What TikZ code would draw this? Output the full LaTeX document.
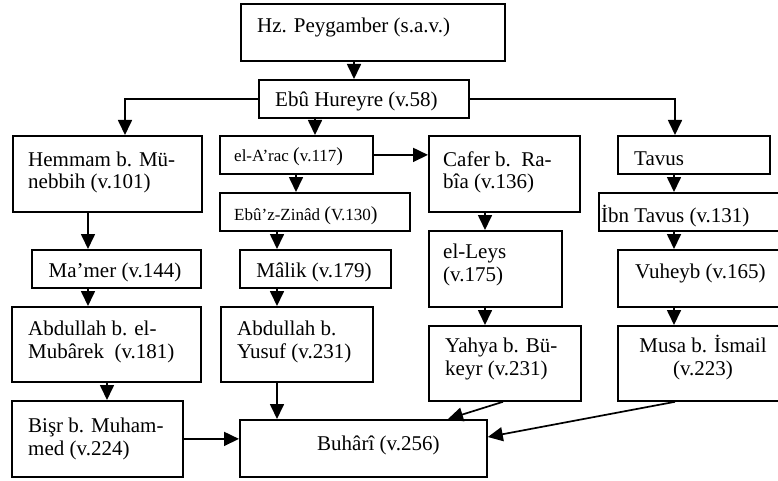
\documentclass[tikz,border=0pt]{standalone}
\usepackage{fontspec}
\setmainfont{Liberation Serif}
\usetikzlibrary{arrows.meta}
\tikzset{
  box/.style={draw, line width=1.8pt, inner sep=0pt, anchor=north west},
  txt/.style={anchor=base west, inner sep=0pt, align=left, font=\fontsize{21}{22.5}\selectfont},
  ctxt/.style={anchor=base, inner sep=0pt, align=center, font=\fontsize{21}{22.5}\selectfont},
  stxt/.style={anchor=base west, inner sep=0pt, font=\fontsize{17}{20}\selectfont},
  arr/.style={-{Triangle[length=15pt,width=14pt]}, line width=1.7pt}
}
\newcommand{\bigpar}[1]{{\fontsize{20}{20}\selectfont #1}}
\begin{document}
\begin{tikzpicture}[x=1pt,y=-1pt]
\useasboundingbox (0,0) rectangle (778,481);
\clip (0,0) rectangle (778,481);
% boxes
\node[box, minimum width=264pt, minimum height=57pt] (peyg) at (240,3) {};
\node[box, minimum width=210pt, minimum height=38pt] (ebu) at (258,79) {};
\node[box, minimum width=189pt, minimum height=76pt] (hemmam) at (12,135) {};
\node[box, minimum width=153pt, minimum height=38pt] (arac) at (219,135) {};
\node[box, minimum width=151pt, minimum height=76pt] (cafer) at (428,135) {};
\node[box, minimum width=152pt, minimum height=38pt] (tavus) at (617,135) {};
\node[box, minimum width=190pt, minimum height=38pt] (zinad) at (219,192) {};
\node[box, minimum width=200pt, minimum height=38pt] (ibntavus) at (598,192) {};
\node[box, minimum width=169pt, minimum height=38pt] (mamer) at (31,249) {};
\node[box, minimum width=151pt, minimum height=38pt] (malik) at (239,249) {};
\node[box, minimum width=133pt, minimum height=76pt] (leys) at (428,230) {};
\node[box, minimum width=200pt, minimum height=57pt] (vuheyb) at (617,249) {};
\node[box, minimum width=189pt, minimum height=75pt] (mubarek) at (11,306) {};
\node[box, minimum width=152pt, minimum height=75pt] (yusuf) at (220,306) {};
\node[box, minimum width=152pt, minimum height=75pt] (yahya) at (428,325) {};
\node[box, minimum width=200pt, minimum height=75pt] (musa) at (617,325) {};
\node[box, minimum width=171pt, minimum height=76pt] (bisr) at (11,400) {};
\node[box, minimum width=247pt, minimum height=57pt] (buhari) at (239,419) {};
% texts (base anchor = baseline of last line)
\node[txt] (tpeyg) at (257,33) {Hz. Peygamber (s.a.v.)};
\node[txt] (tebu) at (275,107) {Ebû Hureyre (v.58)};
\node[txt] (themmam) at (28,189) {Hemmam b. Mü-\\nebbih (v.101)};
\node[stxt] (tarac) at (234,162) {el-A’rac \bigpar{(}v.117\bigpar{)}};
\node[txt] (tcafer) at (443,189) {Cafer b.\ \ Ra-\\bîa (v.136)};
\node[txt] (ttavus) at (634,166) {Tavus};
\node[stxt] (tzinad) at (234,220) {Ebû’z-Zinâd \bigpar{(}V.130\bigpar{)}};
\node[txt] (tibntavus) at (601,222) {İbn Tavus (v.131)};
\node[ctxt] (tmamer) at (115,277) {Ma’mer (v.144)};
\node[ctxt] (tmalik) at (314,277) {Mâlik (v.179)};
\node[txt] (tleys) at (443,281) {el-Leys\\(v.175)};
\node[txt] (tvuheyb) at (635,278) {Vuheyb (v.165)};
\node[txt] (tmubarek) at (28,358) {Abdullah b. el-\\Mubârek\ \ (v.181)};
\node[txt] (tyusuf) at (237,358) {Abdullah b.\\Yusuf (v.231)};
\node[txt] (tyahya) at (445,375) {Yahya b. Bü-\\keyr (v.231)};
\node[ctxt] (tmusa) at (703,375) {Musa b. İsmail\\(v.223)};
\node[txt] (tbisr) at (28,455) {Bişr b. Muham-\\med (v.224)};
\node[txt] (tbuhari) at (317,450) {Buhârî (v.256)};
% connectors
\draw[arr] (peyg.south -| 354,0) -- (ebu.north -| 354,0);
\draw[arr] (ebu.west) -| (hemmam.north -| 125,0);
\draw[arr] (ebu.east) -| (tavus.north -| 675,0);
\draw[arr] (ebu.south -| 315,0) -- (arac.north -| 315,0);
\draw[arr] (arac.east) -- (cafer.west |- arac.east);
\draw[arr] (arac.south -| 296,0) -- (zinad.north -| 296,0);
\draw[arr] (cafer.south -| 485,0) -- (leys.north -| 485,0);
\draw[arr] (hemmam.south -| 88,0) -- (mamer.north -| 88,0);
\draw[arr] (zinad.south -| 277,0) -- (malik.north -| 277,0);
\draw[arr] (mamer.south -| 88,0) -- (mubarek.north -| 88,0);
\draw[arr] (malik.south -| 277,0) -- (yusuf.north -| 277,0);
\draw[arr] (mubarek.south -| 107,0) -- (bisr.north -| 107,0);
\draw[arr] (yusuf.south -| 277,0) -- (buhari.north -| 277,0);
\draw[arr] (bisr.east) -- (buhari.west |- bisr.east);
\draw[arr] (leys.south -| 485,0) -- (yahya.north -| 485,0);
\draw[arr] (tavus.south -| 674,0) -- (ibntavus.north -| 674,0);
\draw[arr] (ibntavus.south -| 674,0) -- (vuheyb.north -| 674,0);
\draw[arr] (vuheyb.south -| 674,0) -- (musa.north -| 674,0);
\draw[arr] (yahya.south -| 503,0) -- (buhari.north -| 448,0);
\draw[arr] (musa.south -| 675,0) -- (buhari.east |- 0,437);
\end{tikzpicture}
\end{document}
